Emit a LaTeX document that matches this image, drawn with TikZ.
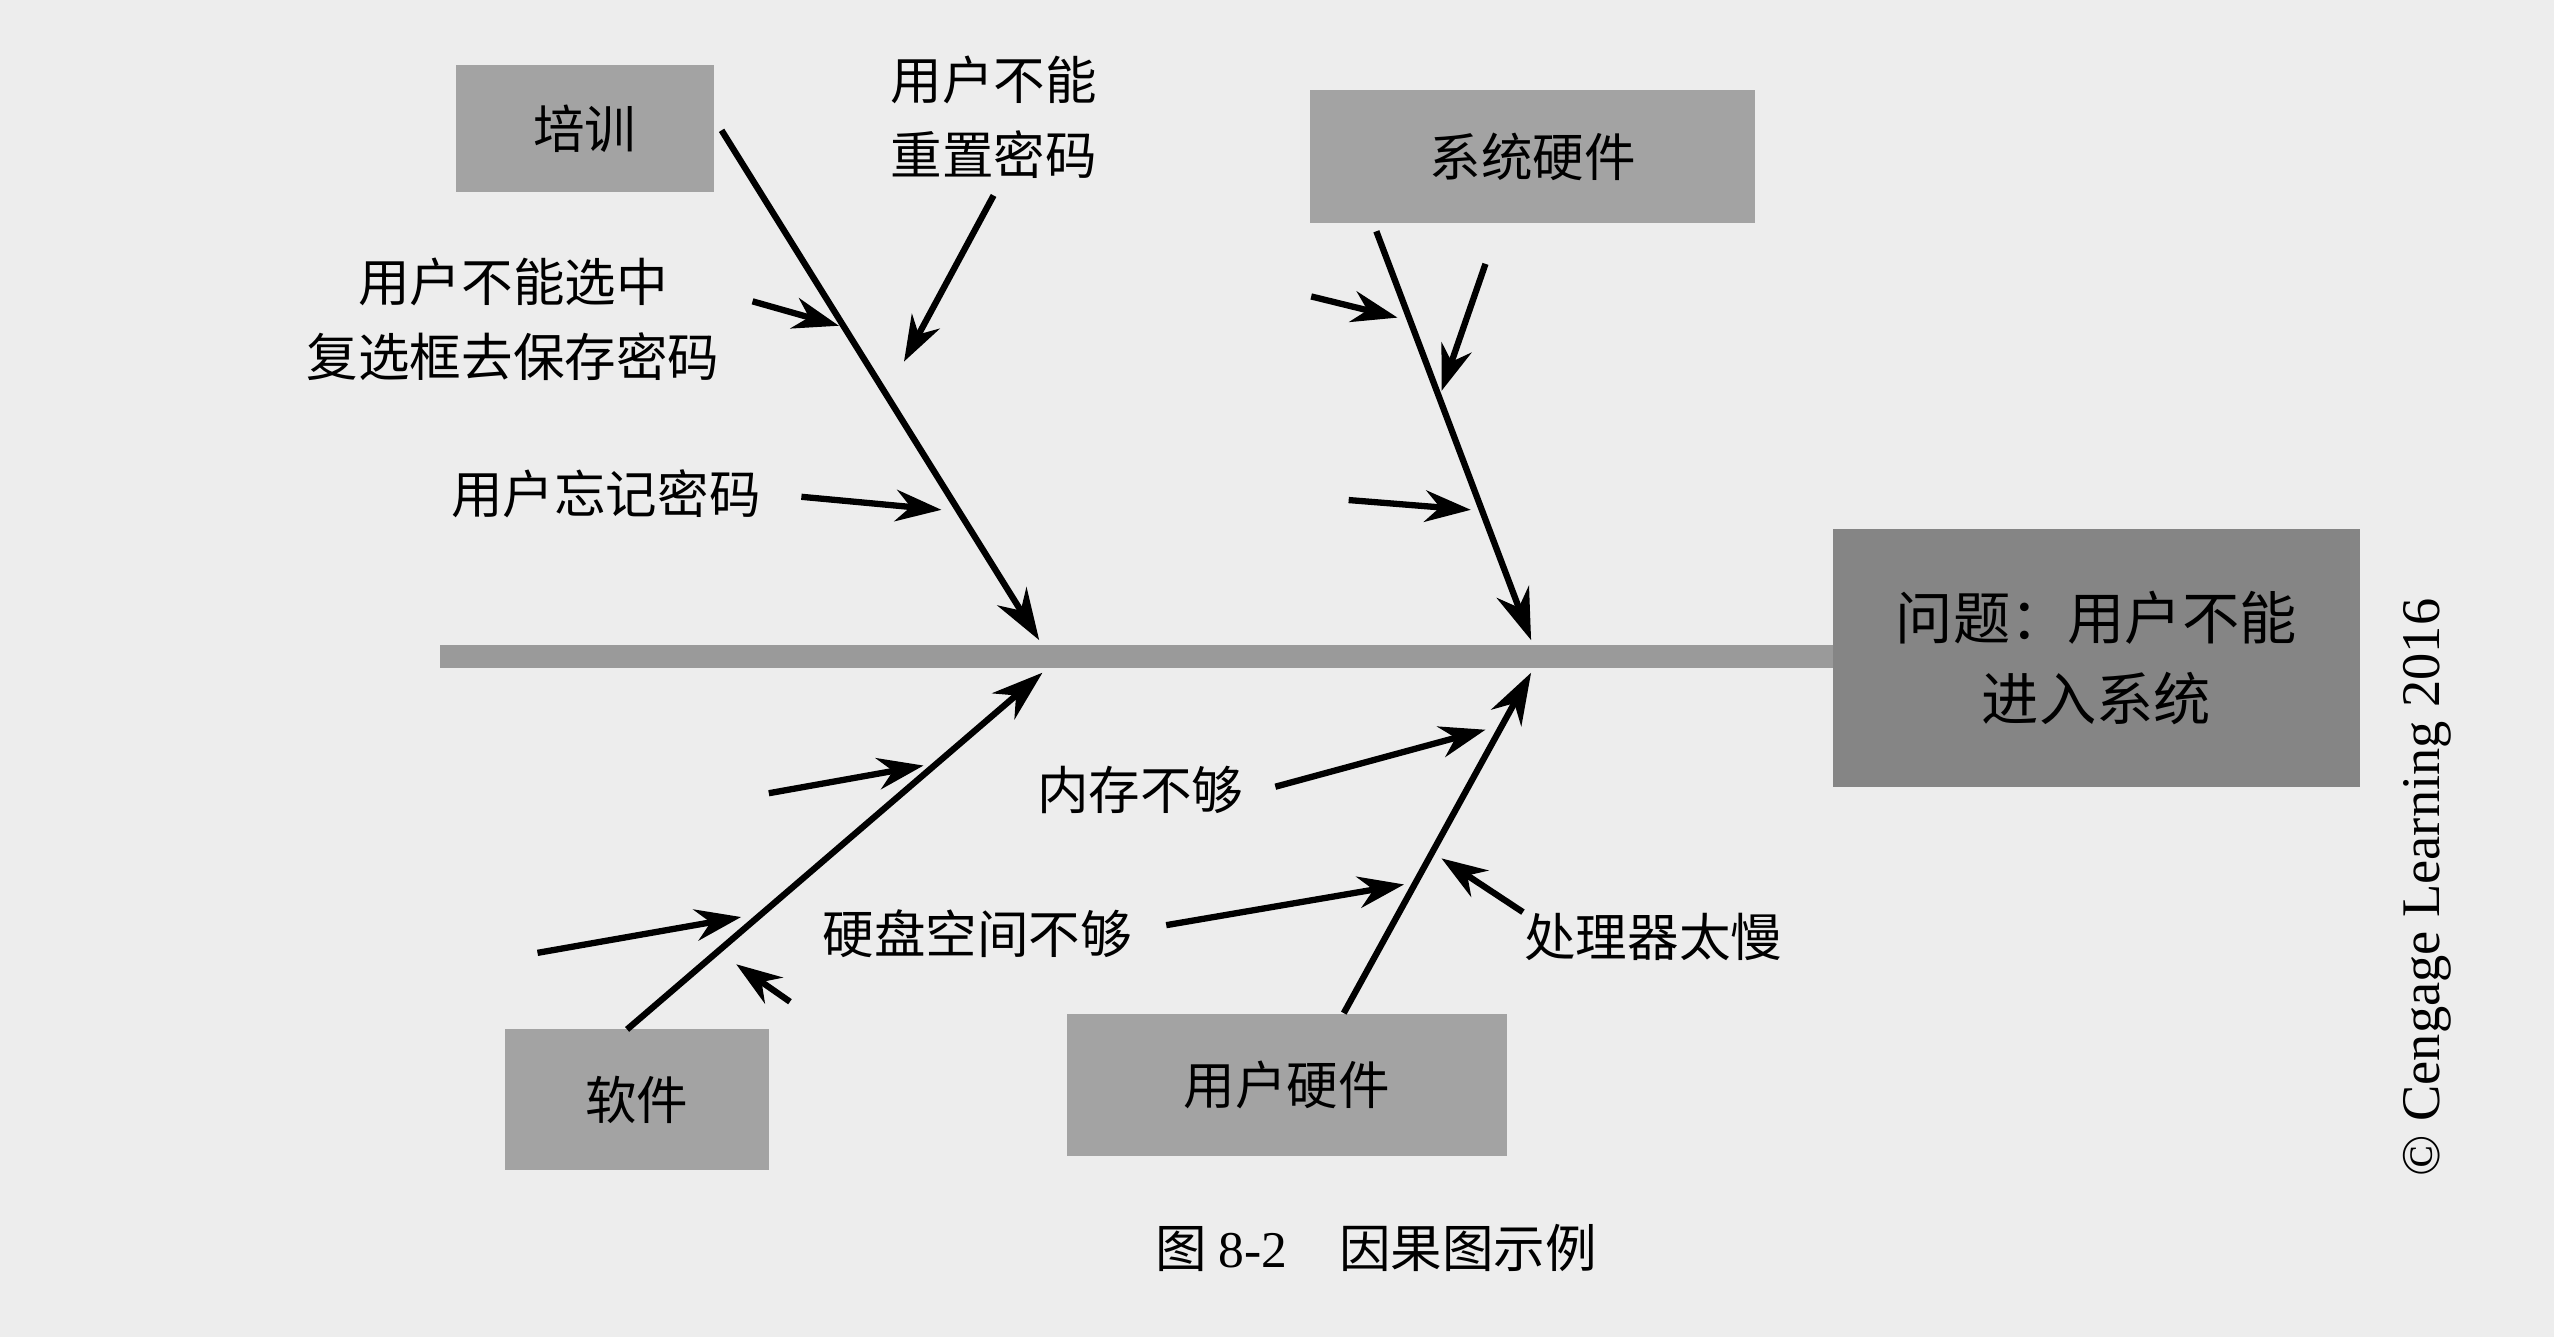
\documentclass[tikz,border=0pt]{standalone}
\usepackage{fontspec}
\newfontfamily\cjk{Noto Sans CJK SC}
\setmainfont{Liberation Serif}
\usetikzlibrary{arrows.meta}
\definecolor{bg}{HTML}{EDEDED}
\definecolor{boxa}{HTML}{A3A3A3}
\definecolor{boxb}{HTML}{858585}
\definecolor{spine}{HTML}{9A9A9A}
\begin{document}
\begin{tikzpicture}[x=0.01cm,y=-0.01cm,
  cat/.style={fill=boxa,inner sep=0pt,font=\cjk\fontsize{9}{11}\selectfont},
  lbl/.style={font=\cjk\fontsize{9}{13}\selectfont,align=center,inner sep=1pt},
  bone/.style={line width=1.1pt,-{Stealth[length=9pt,width=6pt]}},
  sarr/.style={line width=1.1pt,-{Stealth[length=8pt,width=5.5pt]}}]
\fill[bg] (0,0) rectangle (1568,821);
\useasboundingbox (0,0) rectangle (1568,821);
% spine
\fill[spine] (270,396) rectangle (1128,410);
\node[fill=boxb,minimum width=3.23cm,minimum height=1.58cm,inner sep=0pt,align=center,font=\cjk\fontsize{10}{14}\selectfont] (eff) at (1287,404) {问题：用户不能\\进入系统};
% categories
\node[cat,minimum width=1.58cm,minimum height=0.78cm] (train) at (359,79) {培训};
\node[cat,minimum width=2.73cm,minimum height=0.82cm] (sys) at (941,96) {系统硬件};
\node[cat,minimum width=1.62cm,minimum height=0.86cm] (soft) at (391,675) {软件};
\node[cat,minimum width=2.70cm,minimum height=0.87cm] (uhw) at (790,666) {用户硬件};
% bones
\coordinate (t0) at (443,80); \coordinate (t1) at (638,393);
\coordinate (s0) at (845,142); \coordinate (s1) at (940,393);
\coordinate (w0) at (385,632); \coordinate (w1) at (640,413);
\coordinate (u0) at (825,622); \coordinate (u1) at (940,413);
\draw[bone] (t0) -- (t1);
\draw[bone] (s0) -- (s1);
\draw[bone] (w0) -- (w1);
\draw[bone] (u0) -- (u1);
% labels
\node[lbl] (l1) at (610,72) {用户不能\\重置密码};
\node[lbl] (l2) at (315,196) {用户不能选中\\复选框去保存密码};
\node[lbl] (l3) at (372,303) {用户忘记密码};
\node[lbl] (l4) at (700,485) {内存不够};
\node[lbl] (l5) at (600,573) {硬盘空间不够};
\node[lbl] (l6) at (1015,575) {处理器太慢};
% small arrows
\coordinate (a1) at (610,120); \coordinate (b1) at (555,222);
\coordinate (a2) at (462,185); \coordinate (b2) at (515,200);
\coordinate (a3) at (492,305); \coordinate (b3) at (578,313);
\coordinate (a4) at (805,182); \coordinate (b4) at (858,195);
\coordinate (a5) at (912,162); \coordinate (b5) at (885,240);
\coordinate (a6) at (828,307); \coordinate (b6) at (903,313);
\coordinate (a7) at (472,487); \coordinate (b7) at (567,470);
\coordinate (a8) at (330,585); \coordinate (b8) at (455,563);
\coordinate (a9) at (485,615); \coordinate (b9) at (452,592);
\coordinate (a10) at (783,483); \coordinate (b10) at (912,448);
\coordinate (a11) at (716,568); \coordinate (b11) at (862,543);
\coordinate (a12) at (935,560); \coordinate (b12) at (885,527);
\foreach \i in {1,...,12} {\draw[sarr] (a\i) -- (b\i);}
% caption
\node[font=\cjk\fontsize{9}{11}\selectfont] (cap) at (845,766) {图 {\rmfamily 8-2}\quad 因果图示例};
\node[rotate=90,font=\rmfamily\fontsize{9.5}{11}\selectfont] (cr) at (1490,545) {© Cengage Learning 2016};
\end{tikzpicture}
\end{document}
